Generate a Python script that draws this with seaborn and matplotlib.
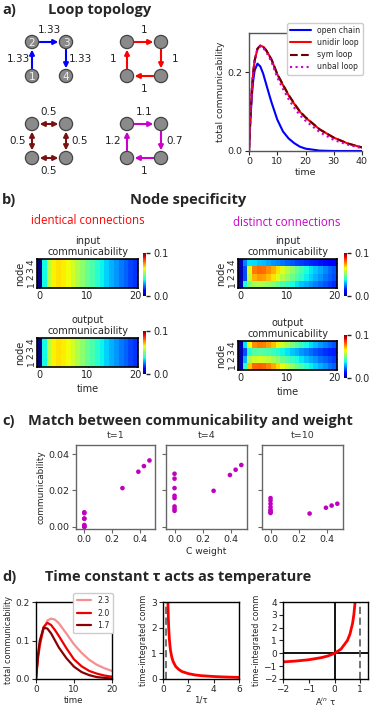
import matplotlib
matplotlib.use("Agg")
import numpy as np
import pandas as pd
import matplotlib.pyplot as plt
import seaborn as sns
from matplotlib.patches import Circle, FancyArrowPatch

# ---- data ----
# a) total communicability over time
t_a = [0, 0.5, 1, 1.5, 2, 3, 4, 5, 6, 7, 8, 10, 12, 14, 16, 18, 20, 25, 30, 35, 40]
open_chain = [0, 0.08, 0.14, 0.18, 0.205, 0.222, 0.215, 0.197, 0.172, 0.147, 0.123, 0.08, 0.05,
              0.032, 0.02, 0.011, 0.006, 0.001, 0, 0, 0]
unidir_loop = [0, 0.09, 0.155, 0.2, 0.23, 0.26, 0.268, 0.265, 0.257, 0.245, 0.232, 0.195, 0.168,
               0.142, 0.12, 0.1, 0.085, 0.055, 0.034, 0.019, 0.009]
sym_loop = [0, 0.09, 0.155, 0.2, 0.23, 0.26, 0.268, 0.265, 0.257, 0.245, 0.232, 0.196, 0.169,
            0.143, 0.121, 0.101, 0.086, 0.055, 0.034, 0.019, 0.009]
unbal_loop = [0, 0.09, 0.155, 0.2, 0.23, 0.259, 0.266, 0.262, 0.253, 0.24, 0.226, 0.187, 0.158,
              0.132, 0.11, 0.091, 0.077, 0.048, 0.028, 0.016, 0.007]

open_w = [1.33, 1.33, 1.33]
unidir_w = [1, 1, 1, 1]
sym_w = [0.5, 0.5, 0.5, 0.5]
unbal_w = [1.2, 1.1, 0.7, 1]

# b) node communicability, rows = nodes 4..1, columns = t 0..20
ident_row = [0, 0.0375, 0.0575, 0.0655, 0.067, 0.066, 0.064, 0.06, 0.056, 0.052, 0.0475,
             0.044, 0.04, 0.0365, 0.033, 0.03, 0.027, 0.0245, 0.022, 0.0195, 0.0175]
ident_in = [ident_row] * 4
ident_out = [ident_row] * 4
dist_in = [
    [0.005, 0.025, 0.035, 0.034, 0.032, 0.031, 0.029, 0.027, 0.026, 0.024, 0.022, 0.021, 0.019,
     0.018, 0.017, 0.016, 0.015, 0.014, 0.013, 0.012, 0.011],
    [0.004, 0.02, 0.062, 0.078, 0.08, 0.079, 0.076, 0.072, 0.067, 0.062, 0.057, 0.052, 0.047,
     0.043, 0.039, 0.035, 0.032, 0.029, 0.026, 0.023, 0.021],
    [0.004, 0.02, 0.058, 0.072, 0.075, 0.074, 0.071, 0.067, 0.062, 0.057, 0.053, 0.048, 0.044,
     0.04, 0.036, 0.033, 0.03, 0.027, 0.024, 0.022, 0.02],
    [0.004, 0.038, 0.05, 0.055, 0.056, 0.055, 0.053, 0.05, 0.047, 0.044, 0.041, 0.038, 0.035,
     0.032, 0.03, 0.027, 0.025, 0.023, 0.021, 0.019, 0.017],
]
dist_out = [
    [0.004, 0.035, 0.064, 0.076, 0.078, 0.077, 0.074, 0.07, 0.065, 0.06, 0.055, 0.05, 0.046,
     0.042, 0.038, 0.034, 0.031, 0.028, 0.025, 0.023, 0.021],
    [0.004, 0.02, 0.04, 0.045, 0.046, 0.045, 0.044, 0.042, 0.04, 0.037, 0.035, 0.032, 0.03,
     0.027, 0.025, 0.023, 0.021, 0.019, 0.017, 0.016, 0.015],
    [0.004, 0.03, 0.055, 0.06, 0.061, 0.06, 0.058, 0.055, 0.052, 0.048, 0.045, 0.041, 0.038,
     0.035, 0.032, 0.029, 0.027, 0.024, 0.022, 0.02, 0.018],
    [0.004, 0.04, 0.07, 0.08, 0.081, 0.08, 0.077, 0.073, 0.068, 0.063, 0.058, 0.053, 0.048,
     0.044, 0.04, 0.036, 0.033, 0.03, 0.027, 0.024, 0.022],
]

# c) communicability vs C weight
weights_c = [0]*8 + [0.275, 0.39, 0.43, 0.47]
comm_t1 = [0.008, 0.0075, 0.0045, 0.0045, 0.001, 0.0005, 0, 0, 0.0213, 0.0303, 0.0334, 0.0365]
comm_t4 = [0.0292, 0.0265, 0.0213, 0.0171, 0.0158, 0.0112, 0.0099, 0.0088, 0.0198, 0.0285, 0.0314, 0.034]
comm_t10 = [0.0158, 0.0145, 0.0127, 0.0109, 0.0094, 0.0085, 0.0076, 0.008, 0.0073, 0.0105, 0.0117, 0.0127]

# d) tau curves
t_d = [0, 0.5, 1, 2, 3, 4, 5, 6, 8, 10, 12, 14, 16, 18, 20]
tau_labels = ["2.3", "2.0", "1.7"]
comm_tau23 = [0, 0.05, 0.085, 0.13, 0.152, 0.157, 0.154, 0.145, 0.118, 0.09, 0.068, 0.05, 0.037, 0.028, 0.021]
comm_tau20 = [0, 0.055, 0.09, 0.135, 0.146, 0.14, 0.127, 0.112, 0.08, 0.051, 0.033, 0.021, 0.014, 0.009, 0.006]
comm_tau17 = [0, 0.06, 0.1, 0.133, 0.131, 0.118, 0.1, 0.082, 0.054, 0.032, 0.018, 0.01, 0.005, 0.003, 0.001]

inv_tau = [0.39, 0.42, 0.45, 0.5, 0.55, 0.6, 0.7, 0.8, 1.0, 1.25, 1.5, 2, 2.5, 3, 4, 5, 6]
integ_inv = [3.0, 2.4, 2.0, 1.57, 1.3, 1.09, 0.84, 0.68, 0.49, 0.37, 0.29, 0.21, 0.16, 0.13, 0.097, 0.076, 0.063]
a_tau = [-2, -1.5, -1, -0.5, -0.25, 0, 0.25, 0.5, 0.6, 0.7, 0.75, 0.8]
integ_a = [-0.67, -0.6, -0.5, -0.33, -0.2, 0, 0.33, 1.0, 1.5, 2.33, 3.0, 4.0]

# ---- figure ----
sns.set_style("ticks")
plt.rcParams['font.family'] = ['DejaVu Sans']
plt.rcParams['xtick.labelsize'] = 6.8
plt.rcParams['ytick.labelsize'] = 6.8
plt.rcParams['axes.linewidth'] = 1.0

W, H = 375, 709
fig = plt.figure(figsize=(W / 100, H / 100), dpi=100)


def px_axes(l, t, r, b):
    return fig.add_axes([l / W, 1 - b / H, (r - l) / W, (b - t) / H])


bg = fig.add_axes([0, 0, 1, 1])
bg.set_xlim(0, W)
bg.set_ylim(H, 0)
bg.axis('off')

head = dict(family='Open Sans', fontweight='bold', fontsize=10.5, va='center')
bg.text(2, 10, "a)", **head)
bg.text(48, 10, "Loop topology", **head)
bg.text(2, 200, "b)", **head)
bg.text(188, 200, "Node specificity", ha='center', **head)
bg.text(2, 421, "c)", **head)
bg.text(190, 421, "Match between communicability and weight", ha='center', **head)
bg.text(2, 577, "d)", **head)
bg.text(178, 577, "Time constant τ acts as temperature", ha='center', **head)
bg.text(88, 220, "identical connections", color='red', family='Open Sans',
        fontsize=8.3, ha='center', va='center')
bg.text(287, 222, "distinct connections", color='#cc00cc', family='Open Sans',
        fontsize=8.3, ha='center', va='center')


# networks
def draw_net(x0, y0, edges, weights, color, two_way=False, numbered=False):
    pos = {1: (x0, y0 + 34), 2: (x0, y0), 3: (x0 + 34, y0), 4: (x0 + 34, y0 + 34)}
    cx, cy = x0 + 17, y0 + 17
    style = '<|-|>' if two_way else '-|>'
    for (a, b), w in zip(edges, weights):
        pa, pb = pos[a], pos[b]
        bg.add_patch(FancyArrowPatch(pa, pb, arrowstyle=style, mutation_scale=7,
                                     color=color, lw=1.5, shrinkA=5.5, shrinkB=5.5))
        mx, my = (pa[0] + pb[0]) / 2, (pa[1] + pb[1]) / 2
        dx, dy = mx - cx, my - cy
        if dx == 0:
            lx, ly = mx, my + (13 if dy > 0 else -12)
        else:
            lx, ly = mx + (14 if dx > 0 else -14), my
        bg.text(lx, ly, f"{w:g}", fontsize=7.5, ha='center', va='center', color='#222222')
    for k, (x, y) in pos.items():
        bg.add_patch(Circle((x, y), 6.6, facecolor='#8a8a8a', edgecolor='#444444', lw=0.9, zorder=3))
        if numbered:
            bg.text(x, y + 0.5, str(k), fontsize=7.5, color='#eeeeee', ha='center', va='center', zorder=4)


chain_edges = [(1, 2), (2, 3), (3, 4)]
loop_edges = [(1, 2), (2, 3), (3, 4), (4, 1)]
draw_net(32, 42, chain_edges, open_w, 'blue', numbered=True)
draw_net(127, 42, loop_edges, unidir_w, 'red')
draw_net(32, 124, loop_edges, sym_w, '#7a1010', two_way=True)
draw_net(127, 124, loop_edges, unbal_w, '#cc00cc')

# a) line plot
ax = px_axes(249, 33, 362, 151)
sns.lineplot(x=t_a, y=open_chain, ax=ax, color='blue', lw=1.5, label='open chain')
sns.lineplot(x=t_a, y=unidir_loop, ax=ax, color='red', lw=1.5, label='unidir loop')
sns.lineplot(x=t_a, y=sym_loop, ax=ax, color='#6b0000', lw=1.5, linestyle='--', label='sym loop')
sns.lineplot(x=t_a, y=unbal_loop, ax=ax, color='#cc00cc', lw=1.5, linestyle=':', label='unbal loop')
ax.set_xlim(0, 40)
ax.set_ylim(0, 0.3)
ax.set_yticks([0, 0.2])
ax.set_xticks([0, 10, 20, 30, 40])
ax.set_xlabel("time", fontsize=6.8, labelpad=1)
ax.set_ylabel("total communicability", fontsize=6.6, labelpad=2)
for s in ['left', 'bottom', 'top']:
    ax.spines[s].set_color('#555555')
ax.spines['right'].set_visible(False)
ax.tick_params(length=3, pad=1.5)
ax.legend(loc='upper right', bbox_to_anchor=(363 / W, 1 - 23 / H), bbox_transform=fig.transFigure,
          fontsize=5.6, handlelength=2.6, borderaxespad=0, framealpha=1, edgecolor='#cccccc',
          borderpad=0.4, labelspacing=0.4)


# b) heatmaps
def heat(box, cbox, rows, title, xlabel):
    hx = px_axes(*box)
    cx = px_axes(*cbox)
    df = pd.DataFrame(rows, index=['4', '3', '2', '1'])
    sns.heatmap(df, ax=hx, cmap='jet', vmin=0, vmax=0.1, cbar_ax=cx,
                xticklabels=False, yticklabels=False, cbar_kws={'ticks': [0, 0.1]})
    hx.set_xticks([0.5, 10.5, 20.5])
    hx.set_xticklabels(['0', '10', '20'], fontsize=7)
    hx.set_yticks([0.5, 1.5, 2.5, 3.5])
    hx.set_yticklabels(['4', '3', '2', '1'], fontsize=6.5, rotation=90, va='center')
    hx.tick_params(direction='in', top=True, right=True, length=3, pad=2, color='black')
    hx.tick_params(axis='y', pad=1)
    for s in hx.spines.values():
        s.set_visible(True)
        s.set_color('black')
        s.set_linewidth(1.2)
    hx.set_ylabel("node", fontsize=7, labelpad=1)
    hx.set_xlabel(xlabel, fontsize=7, labelpad=3)
    hx.set_title(title, fontsize=7, pad=3, linespacing=1.1)
    cx.set_yticklabels(['0.0', '0.1'], fontsize=7)
    cx.tick_params(length=3, pad=2, width=1)


heat((37, 259, 138, 288), (143, 253, 146, 296), ident_in, "input\ncommunicability", "")
heat((37, 338, 138, 367), (143, 331, 146, 374), ident_out, "output\ncommunicability", "time")
heat((238, 259, 337, 288), (344, 253, 347, 296), dist_in, "input\ncommunicability", "")
heat((238, 341, 337, 370), (344, 335, 347, 378), dist_out, "output\ncommunicability", "time")

# c) scatter
c_boxes = [(76, 445, 155, 529), (166, 445, 247, 529), (262, 445, 343, 529)]
for i, (box, vals, ttl) in enumerate(zip(c_boxes, [comm_t1, comm_t4, comm_t10], ["t=1", "t=4", "t=10"])):
    cax = px_axes(*box)
    sns.scatterplot(x=weights_c, y=vals, ax=cax, color='#c000c0', s=11, edgecolor='none')
    cax.set_xlim(-0.06, 0.51)
    cax.set_ylim(-0.0012, 0.045)
    cax.set_xticks([0, 0.2, 0.4])
    cax.set_xticklabels(['0.0', '0.2', '0.4'], fontsize=6.8)
    cax.set_yticks([0, 0.02, 0.04])
    cax.set_title(ttl, fontsize=6.8, pad=5, color='#333333')
    for s in cax.spines.values():
        s.set_color('#666666')
    cax.tick_params(length=3, pad=1.5, color='#666666')
    if i == 0:
        cax.set_yticklabels(['0.00', '0.02', '0.04'], fontsize=6.8)
        cax.set_ylabel("communicability", fontsize=6.4, labelpad=2)
    else:
        cax.set_yticklabels([])
    if i == 1:
        cax.set_xlabel("C weight", fontsize=6.6, labelpad=2)

# d) tau panels
d1 = px_axes(36, 602, 112, 679)
for vals, lab, col in zip([comm_tau23, comm_tau20, comm_tau17], tau_labels,
                          ['#f59090', '#ee0000', '#8b0000']):
    sns.lineplot(x=t_d, y=vals, ax=d1, color=col, lw=1.6, label=lab)
d1.set_xlim(0, 20)
d1.set_ylim(0, 0.2)
d1.set_xticks([0, 10, 20])
d1.set_yticks([0, 0.1, 0.2])
d1.set_xlabel("time", fontsize=6.2, labelpad=1)
d1.set_ylabel("total communicability", fontsize=5.8, labelpad=2)
d1.legend(loc='upper right', bbox_to_anchor=(113 / W, 1 - 593 / H), bbox_transform=fig.transFigure,
          fontsize=5.6, handlelength=1.9, borderaxespad=0, framealpha=1, edgecolor='#cccccc',
          borderpad=0.4, labelspacing=0.45)

d2 = px_axes(163, 602, 239, 679)
d2.axvline(0.27, color='#666666', lw=1.3, dashes=(4, 2))
sns.lineplot(x=inv_tau, y=integ_inv, ax=d2, color='red', lw=2)
d2.set_xlim(0, 6)
d2.set_ylim(0, 3)
d2.set_xticks([0, 2, 4, 6])
d2.set_yticks([0, 1, 2, 3])
d2.set_xlabel("1/τ", fontsize=6.2, labelpad=1)
d2.set_ylabel("time-integrated comm", fontsize=5.8, labelpad=2)

d3 = px_axes(283, 602, 368, 679)
d3.axhline(0, color='black', lw=1.3)
d3.axvline(0, color='black', lw=1.3)
d3.axvline(1, color='#666666', lw=1.3, dashes=(4, 2))
sns.lineplot(x=a_tau, y=integ_a, ax=d3, color='red', lw=2)
d3.set_xlim(-2, 1.3)
d3.set_ylim(-2, 4)
d3.set_xticks([-2, -1, 0, 1])
d3.set_yticks([-2, -1, 0, 1, 2, 3, 4])
d3.set_xlabel("A$^{in}$ τ", fontsize=6.2, labelpad=1)
d3.set_ylabel("time-integrated comm", fontsize=5.8, labelpad=2)

for d in (d1, d2, d3):
    for s in d.spines.values():
        s.set_color('black')
    d.tick_params(length=3, pad=1.5, labelsize=6.5)

fig.savefig("out.png", dpi=100)
